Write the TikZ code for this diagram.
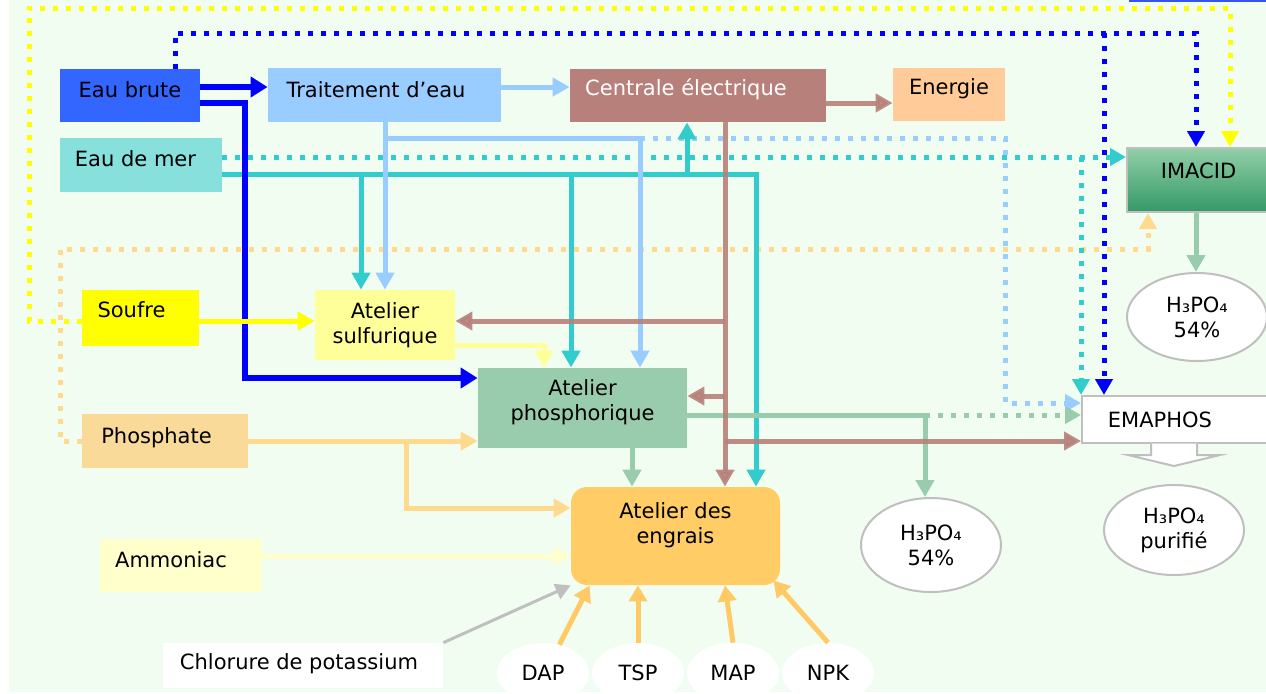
\documentclass[tikz,border=0pt]{standalone}
\usepackage{fontspec}
\setmainfont{DejaVu Sans}
\usetikzlibrary{arrows.meta,shapes.geometric}
\definecolor{bgc}{HTML}{F1FDF1}
\definecolor{cEB}{HTML}{3366FF}
\definecolor{cBL}{HTML}{0000FF}
\definecolor{cTR}{HTML}{99CCFF}
\definecolor{cCE}{HTML}{B8807A}
\definecolor{cEN}{HTML}{FFCC99}
\definecolor{cEM}{HTML}{88E0DC}
\definecolor{cTQ}{HTML}{33CCCC}
\definecolor{cIMt}{HTML}{92CFA8}
\definecolor{cIMb}{HTML}{339966}
\definecolor{cSO}{HTML}{FFFF00}
\definecolor{cSU}{HTML}{FFFF99}
\definecolor{cPH}{HTML}{99CCAD}
\definecolor{cPA}{HTML}{F9DA98}
\definecolor{cOR}{HTML}{FFD98E}
\definecolor{cEG}{HTML}{FFCC66}
\definecolor{cAM}{HTML}{FFFFCC}
\definecolor{cGY}{HTML}{BFBFBF}
\definecolor{cPR}{HTML}{FFC966}
\definecolor{cTB}{HTML}{3355EE}
\begin{document}
\begin{tikzpicture}[x=0.5pt,y=-0.5pt,
  font=\fontsize{10.5}{12.5}\selectfont,
  box/.style={rectangle, inner sep=0pt, draw=none},
  lab/.style={align=center, inner sep=0pt, font=\fontsize{10.5}{12.5}\selectfont},
  ell/.style={ellipse, inner sep=0pt, fill=white, align=center},
  myarr/.style={-{Triangle[length=8.5pt,width=9pt]}},
  sln/.style={line width=2.5pt, myarr},
  dln/.style={line width=2.5pt, dash pattern=on 2.5pt off 4pt, -{Triangle[length=8pt,width=8.5pt]}},
  prarr/.style={line width=2.5pt, draw=cPR, -{Triangle[length=8pt,width=9pt]}},
]
\useasboundingbox (0,0) rectangle (1266,693);
\fill[white] (0,0) rectangle (1266,693);
\fill[bgc] (9,0) rectangle (1266,692);
\fill[cTB] (1129,-4) rectangle (1270,2);

% ---------- nodes ----------
\node[box, fill=cEB, minimum width=70pt, minimum height=26.5pt,
  label={[lab,yshift=2.75pt]center:Eau brute}] (eb) at (130,95.5) {};
\node[box, fill=cTR, minimum width=116.5pt, minimum height=27pt,
  label={[lab,xshift=-4.25pt,yshift=2.5pt]center:Traitement d’eau}] (tr) at (384.5,95) {};
\node[box, fill=cCE, minimum width=128pt, minimum height=26.5pt,
  label={[lab,text=white,xshift=-6pt,yshift=3pt]center:Centrale électrique}] (ce) at (698,95.5) {};
\node[box, fill=cEN, minimum width=56pt, minimum height=26.5pt,
  label={[lab,yshift=2.75pt]center:Energie}] (en) at (949,94.5) {};
\node[box, fill=cEM, minimum width=81pt, minimum height=27pt,
  label={[lab,xshift=-2.75pt,yshift=3pt]center:Eau de mer}] (em) at (141,165) {};
\node[box, draw=cGY, line width=1pt, top color=cIMt, bottom color=cIMb,
  minimum width=71.5pt, minimum height=32pt,
  label={[lab,yshift=4.5pt]center:IMACID}] (im) at (1198.5,180) {};
\node[box, fill=cSO, minimum width=58.5pt, minimum height=28pt,
  label={[lab,xshift=-4.5pt,yshift=4pt]center:Soufre}] (so) at (140.5,318) {};
\node[box, fill=cSU, minimum width=70pt, minimum height=35pt,
  label={[lab]center:{Atelier\\sulfurique}}] (su) at (385,325) {};
\node[box, fill=cPH, minimum width=104.5pt, minimum height=40pt,
  label={[lab,yshift=2.75pt]center:{Atelier\\phosphorique}}] (ph) at (582.5,408) {};
\node[box, fill=cPA, minimum width=83pt, minimum height=27pt,
  label={[lab,xshift=-4.25pt,yshift=1.5pt]center:Phosphate}] (pa) at (165,441) {};
\node[box, fill=cEG, rounded corners=8pt, minimum width=104.5pt, minimum height=49pt,
  label={[lab,yshift=5.5pt]center:{Atelier des\\engrais}}] (eg) at (675.5,536) {};
\node[box, fill=cAM, minimum width=81pt, minimum height=26.5pt,
  label={[lab,xshift=-5pt,yshift=2.75pt]center:Ammoniac}] (am) at (181,565.5) {};
\node[box, fill=white, minimum width=140pt, minimum height=22.5pt,
  label={[lab,xshift=-2pt,yshift=0.75pt]center:Chlorure de potassium}] (kc) at (303,665.5) {};
\node[box, fill=white, draw=cGY, line width=1pt, minimum width=96.5pt, minimum height=23.5pt,
  label={[lab,xshift=-9.25pt]center:EMAPHOS}] (ema) at (1178.5,419.5) {};
\draw[cGY, line width=1pt, fill=white] (1151,443.5) -- (1151,455) -- (1128,455) -- (1174,466)
  -- (1220,455) -- (1197,455) -- (1197,443.5);

\node[ell, draw=cGY, line width=1pt, minimum width=70pt, minimum height=44pt] (e1) at (1197,317) {H₃PO₄\\54\%};
\node[ell, draw=cGY, line width=1pt, minimum width=70pt, minimum height=47pt] (e2) at (931,545) {H₃PO₄\\54\%};
\node[ell, draw=cGY, line width=1pt, minimum width=70pt, minimum height=45pt] (e3) at (1174,530) {H₃PO₄\\purifié};
\node[ell, minimum width=46pt, minimum height=30pt] (dap) at (543,673) {DAP};
\node[ell, minimum width=46pt, minimum height=30pt] (tsp) at (638,673) {TSP};
\node[ell, minimum width=46pt, minimum height=30pt] (map) at (733,673) {MAP};
\node[ell, minimum width=46pt, minimum height=30pt] (npk) at (828,673) {NPK};

% ---------- helper coordinates ----------
\foreach \y in {8,33,87,103,138,157,174,249,321,345,378,396,403,415,441,508,556}
  {\coordinate (h\y) at (0,\y);}
\foreach \x in {29,60,175,245,361,385,406,544,571,632,640,687,725,756,925,1005,1081,1104,1148,1196,1230}
  {\coordinate (v\x) at (\x,0);}

% ---------- dotted connectors ----------
\draw[dln, cOR] (pa.west |- h441) -- (v60 |- h441) -- (v60 |- h249) -- (v1148 |- h249) -- (v1148 |- im.south);
\draw[dln, cSO] (so.west |- h321) -- (v29 |- h321) -- (v29 |- h8) -- (v1230 |- h8) -- (v1230 |- im.north);
\draw[dln, cBL] (v175 |- eb.north) -- (v175 |- h33) -- (v1196 |- h33) -- (v1196 |- im.north);
\draw[dln, cBL] (v1104 |- h33) -- (v1104 |- ema.north);
\draw[dln, cTQ] (em.east |- h157) -- (im.west |- h157);
\draw[dln, cTQ] (v1081 |- h157) -- (v1081 |- ema.north);
\draw[dln, cTR] (v640 |- h138) -- (v1005 |- h138) -- (v1005 |- h403) -- (ema.west |- h403);
\draw[dln, cPH] (v925 |- h415) -- (ema.west |- h415);

% ---------- solid connectors ----------
\draw[sln, cOR] (pa.east |- h441) -- (ph.west |- h441);
\draw[sln, cOR] (v406 |- h441) -- (v406 |- h508) -- (eg.west |- h508);
\draw[sln, cAM] (am.east |- h556) -- (eg.west |- h556);
\draw[sln, cTQ] (em.east |- h174) -- (v756 |- h174) -- (v756 |- eg.north);
\draw[sln, cTQ] (v361 |- h174) -- (v361 |- su.north);
\draw[sln, cTQ] (v571 |- h174) -- (v571 |- ph.north);
\draw[sln, cTQ] (v687 |- h174) -- (v687 |- ce.south);
\draw[sln, cTR] (tr.east |- h87) -- (ce.west |- h87);
\draw[sln, cTR] (v385 |- tr.south) -- (v385 |- su.north);
\draw[sln, cTR] (v385 |- h138) -- (v640 |- h138) -- (v640 |- ph.north);
\draw[line width=3pt, cBL, -{Triangle[length=8.5pt,width=10pt]}] (eb.east |- h87) -- (tr.west |- h87);
\draw[line width=3pt, cBL, -{Triangle[length=8.5pt,width=10pt]}] (eb.east |- h103) -- (v245 |- h103) -- (v245 |- h378) -- (ph.west |- h378);
\draw[sln, cSO] (so.east |- h321) -- (su.west |- h321);
\draw[sln, cSU] (su.east |- h345) -- (v544 |- h345) -- (v544 |- ph.north);
\draw[sln, cPH] (v632 |- ph.south) -- (v632 |- eg.north);
\draw[sln, cPH] (ph.east |- h415) -- (v925 |- h415) -- (v925 |- e2.north);
\draw[sln, cPH] (v1196 |- im.south) -- (v1196 |- e1.north);
\draw[line width=1.5pt, cGY, -{Triangle[length=7.5pt,width=8pt]}] (kc.north east) -- (eg.south west);
\draw[prarr] (dap.60) -- ([xshift=9.5pt]eg.south west);
\draw[prarr] (tsp.north) -- (tsp.north |- eg.south);
\draw[prarr] (map.north) -- (v725 |- eg.south);
\draw[prarr] (npk.north) -- ([shift={(-3.5pt,2.5pt)}]eg.south east);
\begin{scope}[opacity=0.9]
\draw[sln, cCE] (ce.east |- h103) -- (en.west |- h103);
\draw[sln, cCE] (v725 |- ce.south) -- (v725 |- eg.north);
\draw[sln, cCE] (v725 |- h321) -- (su.east |- h321);
\draw[sln, cCE] (v725 |- h396) -- (ph.east |- h396);
\draw[sln, cCE] (v725 |- h441) -- (ema.west |- h441);
\end{scope}
\end{tikzpicture}
\end{document}
